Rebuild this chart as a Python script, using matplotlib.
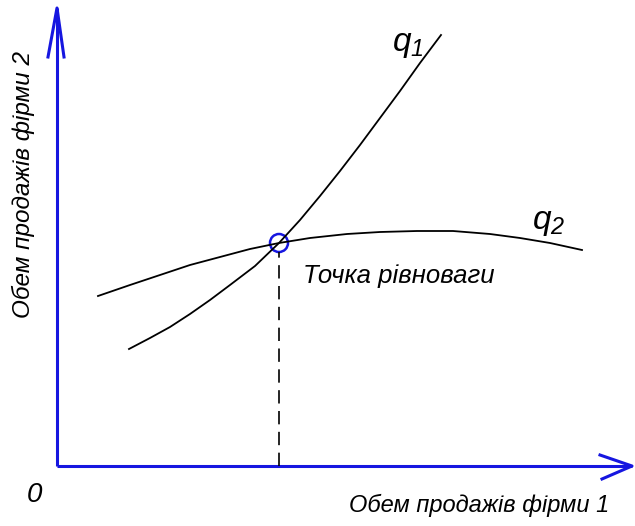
import matplotlib
matplotlib.use("Agg")
import matplotlib.pyplot as plt
from matplotlib import font_manager

# ---- data (units: arbitrary, origin at the axes corner) ----
q1_x = [72, 93, 113, 133, 153, 173, 198, 222, 243, 263, 283, 303, 323, 343, 363, 384]
q1_y = [117, 128, 139, 152, 166, 181, 200, 223, 246, 270, 295, 321, 348, 375, 403, 431]
q2_x = [41, 73, 103, 133, 163, 193, 222, 253, 290, 323, 360, 396, 433, 463, 493, 525]
q2_y = [170, 181, 191, 201, 209, 217, 223, 228, 232, 234, 235, 235, 232, 228, 223, 216]
eq_x, eq_y = 222, 223
x_axis_end = 575
y_axis_end = 458

label_eq = "Точка рівноваги"
label_x = "Обем продажів фірми 1"
label_y = "Обем продажів фірми 2"
label_origin = "0"

# ---- font ----
names = {f.name for f in font_manager.fontManager.ttflist}
FONT = "Liberation Sans Narrow" if "Liberation Sans Narrow" in names else "Liberation Sans"
plt.rcParams["mathtext.fontset"] = "custom"
plt.rcParams["mathtext.it"] = FONT + ":italic"
plt.rcParams["mathtext.rm"] = FONT + ":italic"

BLUE = "#1616e0"

fig = plt.figure(figsize=(6.35, 5.26), dpi=100)
ax = fig.add_axes([0, 0, 1, 1])
ax.set_xlim(-57, 578)
ax.set_ylim(-60, 466)
ax.axis("off")

# axes with open arrowheads
ax.plot([0, x_axis_end], [0, 0], color=BLUE, lw=2.2, solid_capstyle="butt")
ax.plot([0, 0], [0, y_axis_end], color=BLUE, lw=2.2, solid_capstyle="butt")
ax.plot([x_axis_end - 32, x_axis_end, x_axis_end - 30], [11, 0, -13], color=BLUE, lw=2.2)
ax.plot([-9, 0, 7], [y_axis_end - 49, y_axis_end, y_axis_end - 49], color=BLUE, lw=2.2)

# curves
ax.plot(q1_x, q1_y, color="black", lw=1.3, solid_joinstyle="round")
ax.plot(q2_x, q2_y, color="black", lw=1.3, solid_joinstyle="round")

# equilibrium
ax.plot([eq_x, eq_x], [0, eq_y - 9], color="black", lw=1.2, linestyle=(0, (8, 4.5)))
circ = plt.Circle((eq_x, eq_y), 9, fill=False, color=BLUE, lw=1.8)
ax.add_patch(circ)

# labels
ax.text(351, 423, r"$q_1$", fontsize=24, ha="center", va="center")
ax.text(492, 244, r"$q_2$", fontsize=24, ha="center", va="center")
ax.text(246, 183, label_eq, fontsize=18.5, fontstyle="italic", family=FONT,
        ha="left", va="baseline")
ax.text(422, -39, label_x, fontsize=17, fontstyle="italic", family=FONT,
        ha="center", va="center")
ax.text(-34, 281, label_y, fontsize=17.5, fontstyle="italic", family=FONT,
        ha="center", va="center", rotation=90)
ax.text(-23, -29, label_origin, fontsize=20, fontstyle="italic", family=FONT,
        ha="center", va="center")

fig.savefig("out.png", dpi=100)
